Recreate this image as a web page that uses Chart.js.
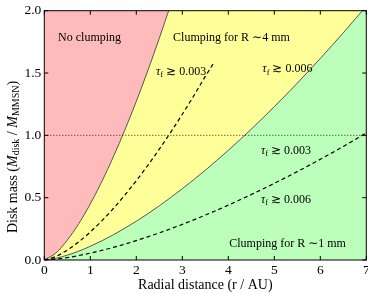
<!DOCTYPE html>
<html>
<head>
<meta charset="utf-8">
<script src="https://cdn.jsdelivr.net/npm/chart.js@4.4.1/dist/chart.umd.min.js"></script>
<style>
html,body{margin:0;padding:0;background:#fff;}
#wrap{width:368px;height:294px;}
</style>
</head>
<body>
<div id="wrap"><canvas id="c" width="368" height="294"></canvas></div>
<script>
// ---- data ----
const xTickLabels = ['0','1','2','3','4','5','6','7'];
const yTickLabels = ['0.0','0.5','1.0','1.5','2.0'];

// "no clumping" boundary (red / yellow)
const bound4mmX = [0,0.25,0.5,0.75,1,1.25,1.5,1.75,2,2.25,2.5,2.75];
const bound4mmY = [0,0.056,0.159,0.292,0.45,0.629,0.827,1.042,1.273,1.519,1.779,2.052];

// dashed tau line inside yellow region
const dash4mmX = [0,0.25,0.5,0.75,1,1.25,1.5,1.75,2,2.25,2.5,2.75,3,3.25,3.5,3.7];
const dash4mmY = [0,0.028,0.080,0.146,0.225,0.314,0.413,0.521,0.636,0.759,0.889,1.026,1.169,1.318,1.473,1.59];

// yellow / green boundary
const bound1mmX = [0,0.25,0.5,0.75,1,1.25,1.5,1.75,2,2.25,2.5,2.75,3,3.25,3.5,3.75,4,4.5,5,5.5,6,6.5,7];
const bound1mmY = [0,0.014,0.039,0.071,0.11,0.154,0.202,0.255,0.311,0.371,0.435,0.502,0.572,0.645,0.720,0.799,0.88,1.050,1.230,1.419,1.617,1.823,2.037];

// dashed tau line inside green region
const dash1mmX = [0,0.25,0.5,0.75,1,1.25,1.5,1.75,2,2.25,2.5,2.75,3,3.25,3.5,3.75,4,4.5,5,5.5,6,6.5,7];
const dash1mmY = [0,0.007,0.019,0.036,0.055,0.077,0.101,0.127,0.156,0.186,0.217,0.251,0.286,0.322,0.360,0.399,0.44,0.525,0.615,0.709,0.808,0.911,1.019];

// MMSN reference level
const refX = [0,7];
const refY = [1.0,1.0];

function pts(xs, ys){ return xs.map((x,i)=>({x:x, y:ys[i]})); }

const RED = '#ffbbbb', YELLOW = '#ffff99', GREEN = '#bbffbb';
const SERIF = "'Liberation Serif','DejaVu Serif',serif";

const bgPlugin = {
  id:'bg',
  beforeDatasetsDraw(chart){
    const {ctx, chartArea:a} = chart;
    ctx.save();
    ctx.fillStyle = YELLOW;
    ctx.fillRect(a.left, a.top, a.right-a.left, a.bottom-a.top);
    ctx.restore();
  }
};

function drawTau(ctx, x, y, val){
  ctx.font = "italic 12px " + SERIF;
  ctx.fillText('τ', x, y);
  let w = ctx.measureText('τ').width;
  ctx.font = "8.5px " + SERIF;
  ctx.fillText('f', x + w, y + 3);
  w += ctx.measureText('f').width;
  ctx.font = "12px " + SERIF;
  ctx.fillText(' ≳ ' + val, x + w, y);
}

const decoPlugin = {
  id:'deco',
  afterDatasetsDraw(chart){
    const {ctx, chartArea:a, scales:{x:xs, y:ys}} = chart;
    ctx.save();
    // annotations
    ctx.fillStyle = '#000';
    ctx.textBaseline = 'middle';
    ctx.textAlign = 'left';
    ctx.font = "12px " + SERIF;
    ctx.fillText('No clumping', xs.getPixelForValue(0.30), ys.getPixelForValue(1.78));
    ctx.fillText('Clumping for R ∼4 mm', xs.getPixelForValue(2.80), ys.getPixelForValue(1.78));
    ctx.fillText('Clumping for R ∼1 mm', xs.getPixelForValue(4.02), ys.getPixelForValue(0.13));
    drawTau(ctx, xs.getPixelForValue(2.43), ys.getPixelForValue(1.51), '0.003');
    drawTau(ctx, xs.getPixelForValue(4.74), ys.getPixelForValue(1.53), '0.006');
    drawTau(ctx, xs.getPixelForValue(4.71), ys.getPixelForValue(0.878), '0.003');
    drawTau(ctx, xs.getPixelForValue(4.71), ys.getPixelForValue(0.48), '0.006');

    // frame
    ctx.strokeStyle = '#000';
    ctx.lineWidth = 1;
    ctx.strokeRect(a.left, a.top, a.right-a.left, a.bottom-a.top);
    // inward ticks
    ctx.beginPath();
    const tl = 4;
    xs.ticks.forEach(t=>{
      const px = xs.getPixelForValue(t.value);
      ctx.moveTo(px, a.bottom); ctx.lineTo(px, a.bottom - tl);
      ctx.moveTo(px, a.top); ctx.lineTo(px, a.top + tl);
    });
    ys.ticks.forEach(t=>{
      const py = ys.getPixelForValue(t.value);
      ctx.moveTo(a.left, py); ctx.lineTo(a.left + tl, py);
      ctx.moveTo(a.right, py); ctx.lineTo(a.right - tl, py);
    });
    ctx.stroke();

    // x axis title
    ctx.textAlign = 'center';
    ctx.font = "14px " + SERIF;
    ctx.fillText('Radial distance (r / AU)', (a.left + a.right)/2, 285.5);

    // y axis title with subscripts
    const segs = [
      {t:'Disk mass (', f:"14px "+SERIF, d:0},
      {t:'M', f:"italic 14px "+SERIF, d:0},
      {t:'disk', f:"10px "+SERIF, d:3},
      {t:' / ', f:"14px "+SERIF, d:0},
      {t:'M', f:"italic 14px "+SERIF, d:0},
      {t:'MMSN', f:"10px "+SERIF, d:3},
      {t:')', f:"14px "+SERIF, d:0}
    ];
    let total = 0;
    segs.forEach(s=>{ ctx.font = s.f; s.w = ctx.measureText(s.t).width; total += s.w; });
    ctx.translate(13, 157);
    ctx.rotate(-Math.PI/2);
    ctx.textAlign = 'left';
    let cx = -total/2;
    segs.forEach(s=>{ ctx.font = s.f; ctx.fillText(s.t, cx, s.d); cx += s.w; });
    ctx.restore();
  }
};

new Chart(document.getElementById('c'), {
  type:'line',
  data:{
    datasets:[
      {data:pts(bound4mmX,bound4mmY), borderColor:'#555', borderWidth:1, backgroundColor:RED,
       fill:'end', pointRadius:0, cubicInterpolationMode:'monotone', order:5},
      {data:pts(bound1mmX,bound1mmY), borderColor:'#555', borderWidth:1, backgroundColor:GREEN,
       fill:'start', pointRadius:0, cubicInterpolationMode:'monotone', order:6},
      {data:pts(dash4mmX,dash4mmY), borderColor:'#000', borderWidth:1.2, borderDash:[4,3],
       fill:false, pointRadius:0, cubicInterpolationMode:'monotone', order:1},
      {data:pts(dash1mmX,dash1mmY), borderColor:'#000', borderWidth:1.2, borderDash:[4,3],
       fill:false, pointRadius:0, cubicInterpolationMode:'monotone', order:1},
      {data:pts(refX,refY), borderColor:'#3a2a10', borderWidth:1, borderDash:[1,2],
       fill:false, pointRadius:0, order:0}
    ]
  },
  options:{
    responsive:false,
    animation:false,
    events:[],
    layout:{padding:{left:0, right:1.7, top:10.7, bottom:0}},
    plugins:{legend:{display:false}, tooltip:{enabled:false}},
    scales:{
      x:{
        type:'linear', min:0, max:7,
        grid:{display:false, drawTicks:false}, border:{display:false},
        ticks:{stepSize:1, padding:2, color:'#000', font:{family:SERIF, size:13.5},
               maxRotation:0, autoSkip:false,
               callback:(v,i)=>xTickLabels[i]},
        afterFit(s){ s.height = 34; s.paddingLeft = 0; s.paddingRight = 0; }
      },
      y:{
        type:'linear', min:0, max:2,
        grid:{display:false, drawTicks:false}, border:{display:false},
        ticks:{stepSize:0.5, padding:3, color:'#000', font:{family:SERIF, size:13.5},
               autoSkip:false,
               callback:(v,i)=>yTickLabels[i]},
        afterFit(s){ s.width = 44.3; s.paddingTop = 0; s.paddingBottom = 0; }
      }
    }
  },
  plugins:[bgPlugin, decoPlugin]
});
</script>
</body>
</html>
